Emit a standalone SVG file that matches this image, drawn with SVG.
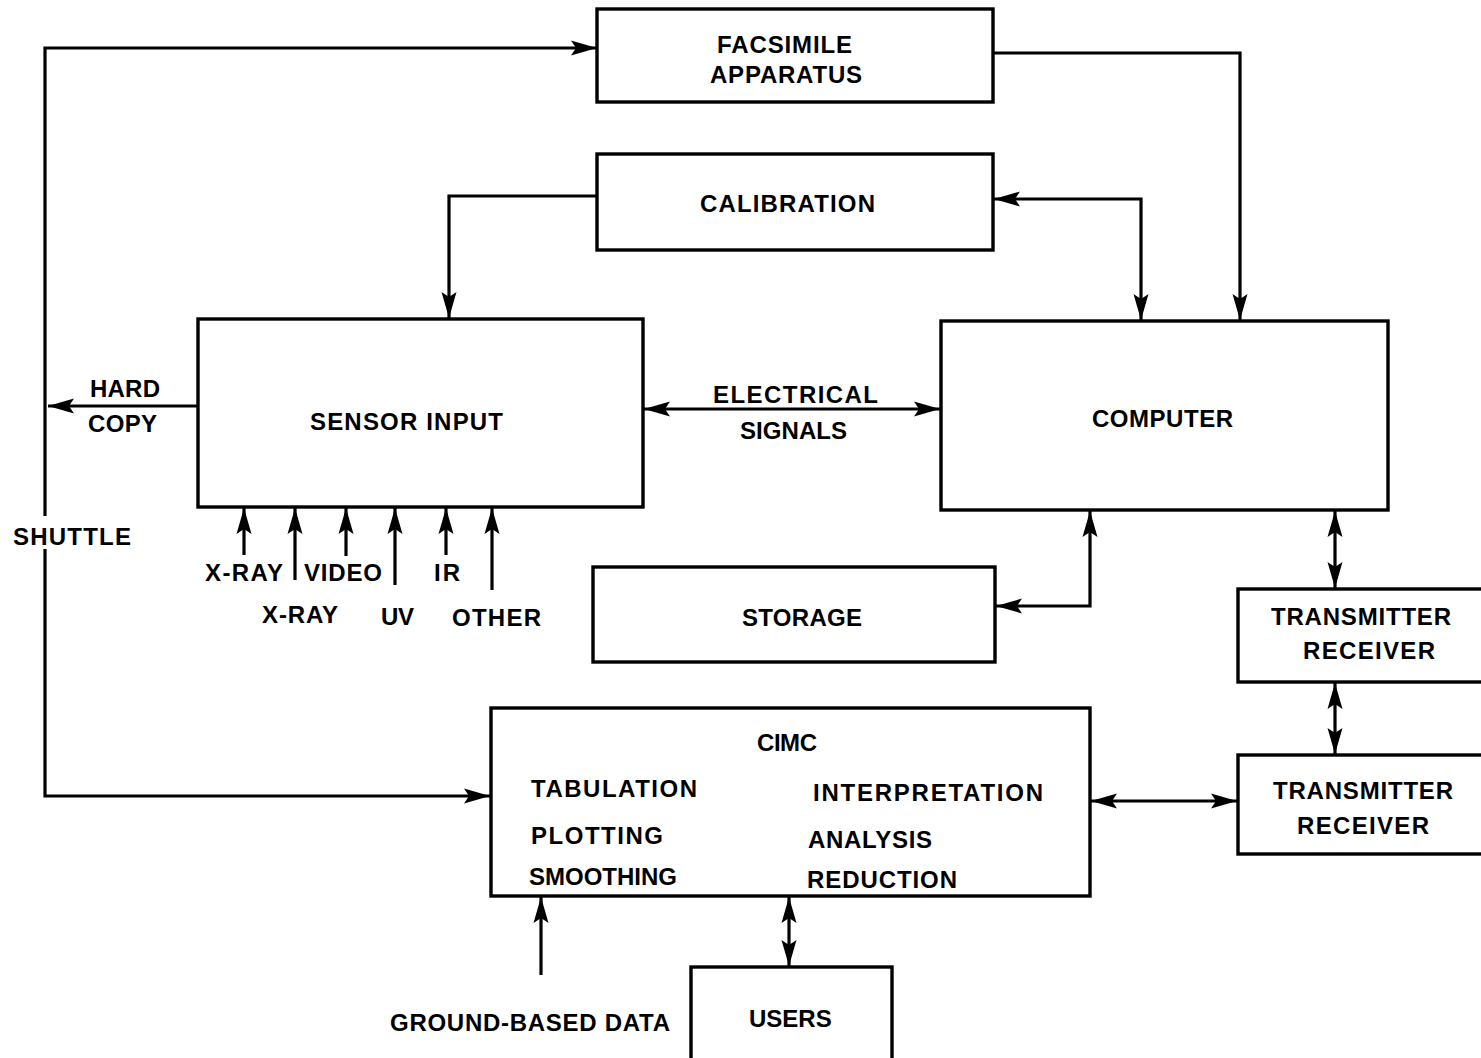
<svg xmlns="http://www.w3.org/2000/svg" width="1481" height="1058" viewBox="0 0 1481 1058">
<style>
.box{fill:#fff;stroke:#000;stroke-width:3.4}
.ln{fill:none;stroke:#000;stroke-width:3.2}
text{font-family:"Liberation Sans",Arial,sans-serif;font-weight:bold;font-size:24px;fill:#000}
</style>
<defs>
<marker id="ah" markerUnits="userSpaceOnUse" markerWidth="28" markerHeight="18" viewBox="0 0 28 18" refX="26" refY="9" orient="auto-start-reverse">
<path d="M0,1.5 L26,9 L0,16.5 L5,9 z" fill="#000"/>
</marker>
</defs>
<rect width="1481" height="1058" fill="#fff"/>
<g id="connectors">
<path class="ln" d="M597,48 H45 V516" marker-start="url(#ah)"/>
<path class="ln" d="M45,549 V796 H490" marker-end="url(#ah)"/>
<path class="ln" d="M198,406 H48" marker-end="url(#ah)"/>
<path class="ln" d="M993,53 H1240 V320" marker-end="url(#ah)"/>
<path class="ln" d="M994,199 H1141 V320" marker-start="url(#ah)" marker-end="url(#ah)"/>
<path class="ln" d="M597,196 H449 V318" marker-end="url(#ah)"/>
<path class="ln" d="M644,409 H940" marker-start="url(#ah)" marker-end="url(#ah)"/>
<path class="ln" d="M1090,511 V606 H996" marker-start="url(#ah)" marker-end="url(#ah)"/>
<path class="ln" d="M1335,511 V588" marker-start="url(#ah)" marker-end="url(#ah)"/>
<path class="ln" d="M1335,683 V754" marker-start="url(#ah)" marker-end="url(#ah)"/>
<path class="ln" d="M1091,801 H1237" marker-start="url(#ah)" marker-end="url(#ah)"/>
<path class="ln" d="M789,897 V966" marker-start="url(#ah)" marker-end="url(#ah)"/>
<path class="ln" d="M541,975 V897" marker-end="url(#ah)"/>
<path class="ln" d="M244,555 V508" marker-end="url(#ah)"/>
<path class="ln" d="M295,580 V508" marker-end="url(#ah)"/>
<path class="ln" d="M346,556 V508" marker-end="url(#ah)"/>
<path class="ln" d="M395,585 V508" marker-end="url(#ah)"/>
<path class="ln" d="M446,555 V508" marker-end="url(#ah)"/>
<path class="ln" d="M492,590 V508" marker-end="url(#ah)"/>
</g>
<g id="facsimile">
<rect class="box" x="597" y="9" width="396" height="93"/>
<text x="717" y="53" textLength="135" lengthAdjust="spacing">FACSIMILE</text>
<text x="710" y="83" textLength="152" lengthAdjust="spacing">APPARATUS</text>
</g>
<g id="calibration">
<rect class="box" x="597" y="154" width="396" height="96"/>
<text x="700" y="212" textLength="175" lengthAdjust="spacing">CALIBRATION</text>
</g>
<g id="sensor">
<rect class="box" x="198" y="319" width="445" height="188"/>
<text x="310" y="430" textLength="193" lengthAdjust="spacing">SENSOR INPUT</text>
</g>
<g id="computer">
<rect class="box" x="941" y="321" width="447" height="189"/>
<text x="1092" y="427" textLength="141" lengthAdjust="spacing">COMPUTER</text>
</g>
<g id="storage">
<rect class="box" x="593" y="567" width="402" height="95"/>
<text x="742" y="626" textLength="120" lengthAdjust="spacing">STORAGE</text>
</g>
<g id="tr1">
<rect class="box" x="1238" y="589" width="260" height="93"/>
<text x="1271" y="625" textLength="180" lengthAdjust="spacing">TRANSMITTER</text>
<text x="1303" y="659" textLength="132" lengthAdjust="spacing">RECEIVER</text>
</g>
<g id="tr2">
<rect class="box" x="1238" y="755" width="260" height="99"/>
<text x="1273" y="799" textLength="180" lengthAdjust="spacing">TRANSMITTER</text>
<text x="1297" y="834" textLength="132" lengthAdjust="spacing">RECEIVER</text>
</g>
<g id="cimc">
<rect class="box" x="491" y="708" width="599" height="188"/>
<text x="757" y="751" textLength="60" lengthAdjust="spacing">CIMC</text>
<text x="531" y="797" textLength="166" lengthAdjust="spacing">TABULATION</text>
<text x="813" y="801" textLength="230" lengthAdjust="spacing">INTERPRETATION</text>
<text x="531" y="844" textLength="132" lengthAdjust="spacing">PLOTTING</text>
<text x="808" y="848" textLength="124" lengthAdjust="spacing">ANALYSIS</text>
<text x="529" y="885">SMOOTHING</text>
<text x="807" y="888" textLength="150" lengthAdjust="spacing">REDUCTION</text>
</g>
<g id="users">
<rect class="box" x="691" y="967" width="201" height="100"/>
<text x="749" y="1027">USERS</text>
</g>
<g id="labels">
<text x="713" y="403" textLength="165" lengthAdjust="spacing">ELECTRICAL</text>
<text x="740" y="439" textLength="107" lengthAdjust="spacing">SIGNALS</text>
<text x="90" y="397" textLength="70" lengthAdjust="spacing">HARD</text>
<text x="88" y="432" textLength="69" lengthAdjust="spacing">COPY</text>
<text x="13" y="545" textLength="118" lengthAdjust="spacing">SHUTTLE</text>
<text x="205" y="581" textLength="78" lengthAdjust="spacing">X-RAY</text>
<text x="304" y="581" textLength="78" lengthAdjust="spacing">VIDEO</text>
<text x="434" y="581" textLength="26" lengthAdjust="spacing">IR</text>
<text x="262" y="623" textLength="76" lengthAdjust="spacing">X-RAY</text>
<text x="381" y="625" textLength="33" lengthAdjust="spacing">UV</text>
<text x="452" y="626" textLength="89" lengthAdjust="spacing">OTHER</text>
<text x="390" y="1031" textLength="280" lengthAdjust="spacing">GROUND-BASED DATA</text>
</g>
</svg>
